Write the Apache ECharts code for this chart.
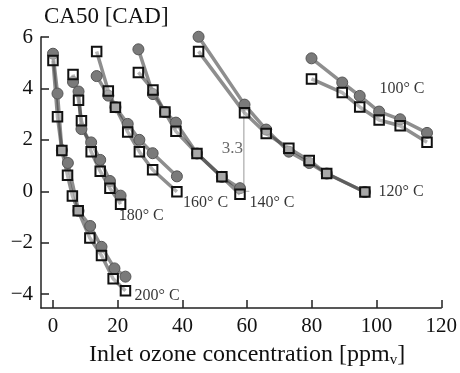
<!DOCTYPE html>
<html><head><meta charset="utf-8">
<script src="https://cdn.jsdelivr.net/npm/echarts@6/dist/echarts.min.js"></script>
<style>html,body{margin:0;padding:0;background:#fff}#c{width:460px;height:373px}</style>
</head><body><div id="c"></div>
<script>
// ---- data ----
const xTicks = [0, 20, 40, 60, 80, 100, 120];
const yTicks = [-4, -2, 0, 2, 4, 6];

const x200c = [0, 1.4, 2.75, 4.6, 7.9, 11.5, 15.0, 19.0, 22.4];
const y200c = [5.35, 3.8, 1.6, 1.1, -0.76, -1.35, -2.16, -3.0, -3.32];
const x200s = [0, 1.4, 2.75, 4.5, 6.0, 7.8, 11.4, 15.0, 18.6, 22.4];
const y200s = [5.09, 2.9, 1.59, 0.62, -0.18, -0.76, -1.82, -2.5, -3.4, -3.87];

const x180 = [6.2, 7.9, 8.8, 11.8, 14.6, 17.6, 20.9];
const y180c = [4.25, 3.88, 2.42, 1.9, 1.22, 0.4, -0.17];
const y180s = [4.54, 3.54, 2.74, 1.54, 0.78, 0.12, -0.5];

const x160 = [13.5, 17.1, 19.3, 23.1, 26.7, 30.8, 38.3];
const y160c = [4.48, 3.72, 3.27, 2.62, 2.0, 1.48, 0.58];
const y160s = [5.44, 3.9, 3.27, 2.31, 1.54, 0.84, -0.02];

const x140 = [26.4, 30.9, 34.6, 38.0, 44.5, 52.2, 57.8];
const y140c = [5.52, 3.78, 3.08, 2.67, 1.47, 0.56, 0.12];
const y140s = [4.62, 3.94, 3.08, 2.33, 1.47, 0.56, -0.12];

const x120 = [45.0, 59.2, 65.9, 72.9, 79.2, 84.6, 96.4];
const y120c = [6.01, 3.37, 2.4, 1.54, 1.1, 0.69, -0.03];
const y120s = [5.44, 3.05, 2.25, 1.67, 1.2, 0.69, -0.03];

const x100 = [79.9, 89.4, 94.8, 100.8, 107.3, 115.6];
const y100c = [5.17, 4.23, 3.71, 3.1, 2.8, 2.27];
const y100s = [4.37, 3.84, 3.28, 2.77, 2.55, 1.91];

const tempNames = ['200° C', '180° C', '160° C', '140° C', '120° C', '100° C'];
const tempLabelX = [25.2, 20.3, 40.2, 60.7, 100.6, 100.9];
const tempLabelY = [-4.05, -0.97, -0.44, -0.44, -0.02, 4.0];

const deltaX = 59;
const deltaY = [0, 3.3];
const deltaText = '3.3';

// ---- build ----
const F = '"Liberation Serif", "Times New Roman", serif';
const zip = (xs, ys) => xs.map((x, i) => [x, ys[i]]);
const circleSets = [zip(x200c, y200c), zip(x180, y180c), zip(x160, y160c), zip(x140, y140c), zip(x120, y120c), zip(x100, y100c)];
const squareSets = [zip(x200s, y200s), zip(x180, y180s), zip(x160, y160s), zip(x140, y140s), zip(x120, y120s), zip(x100, y100s)];

const lineStyle = { color: 'rgba(60,60,60,0.58)', width: 3.5 };
const series = [];
circleSets.concat(squareSets).forEach(d => {
  series.push({ type: 'line', data: d, showSymbol: false, symbol: 'none', lineStyle, z: 2, clip: false, silent: true, animation: false });
});
circleSets.forEach(d => {
  series.push({ type: 'scatter', data: d, symbol: 'circle', symbolSize: 11, z: 3, clip: false, animation: false,
    itemStyle: { color: '#7a7a7a', borderColor: '#555', borderWidth: 1, opacity: 1 } });
});
squareSets.forEach(d => {
  series.push({ type: 'scatter', data: d, symbol: 'rect', symbolSize: 9.5, z: 4, clip: false, animation: false,
    itemStyle: { color: 'rgba(255,255,255,0.35)', borderColor: '#111', borderWidth: 2, opacity: 1 } });
});
// 3.3 annotation
series.push({ type: 'line', data: [[deltaX, deltaY[0]], [deltaX, deltaY[1]]], symbol: 'none', z: 1, animation: false,
  lineStyle: { color: '#999', width: 1 } });
deltaY.forEach(v => series.push({ type: 'line', data: [[deltaX - 1.7, v], [deltaX + 1.7, v]], symbol: 'none', z: 1, animation: false,
  lineStyle: { color: '#aaa', width: 1 } }));
series.push({ type: 'scatter', data: [[deltaX - 0.3, (deltaY[0] + deltaY[1]) / 2]], symbolSize: 0, z: 5, animation: false,
  label: { show: true, position: 'left', distance: 0, formatter: deltaText, fontFamily: F, fontSize: 17, color: '#444' } });
// temperature labels
series.push({ type: 'scatter', symbolSize: 0, z: 5, clip: false, animation: false,
  data: tempNames.map((n, i) => ({ name: n, value: [tempLabelX[i], tempLabelY[i]] })),
  label: { show: true, position: 'right', distance: 0, formatter: p => p.name, fontFamily: F, fontSize: 16, color: '#000' } });

const chart = echarts.init(document.getElementById('c'), null, { renderer: 'canvas' });
chart.setOption({
  animation: false,
  backgroundColor: '#fff',
  title: { text: 'CA50 [CAD]', left: 44, top: 5, padding: 0,
    textStyle: { fontFamily: F, fontSize: 23, fontWeight: 'normal', color: '#111' } },
  grid: { left: 41, right: 15, top: 37, bottom: 61, containLabel: false },
  xAxis: {
    type: 'value', min: -3.7, max: 120,
    axisLine: { show: true, onZero: false, lineStyle: { color: '#222', width: 1.5 } },
    axisTick: { show: true, inside: true, length: 8, customValues: xTicks, lineStyle: { color: '#222', width: 1.5 } },
    axisLabel: { customValues: xTicks, fontFamily: F, fontSize: 21, color: '#111', margin: 8 },
    splitLine: { show: false },
    name: 'Inlet ozone concentration [ppm{s|v}]', nameLocation: 'middle', nameGap: 33,
    nameTextStyle: { fontFamily: F, fontSize: 24, color: '#111', padding: [0, 0, 0, 12],
      rich: { s: { fontFamily: F, fontSize: 15, color: '#111', padding: [12, 0, 0, 0] } } }
  },
  yAxis: {
    type: 'value', min: -4.54, max: 6,
    axisLine: { show: true, onZero: false, lineStyle: { color: '#222', width: 1.5 } },
    axisTick: { show: true, inside: true, length: 8, customValues: yTicks, lineStyle: { color: '#222', width: 1.5 } },
    axisLabel: { customValues: yTicks, fontFamily: F, fontSize: 21, color: '#111', margin: 8,
      formatter: v => (v < 0 ? '\u2212' + Math.abs(v) : String(v)) },
    splitLine: { show: false }
  },
  series
});
</script></body></html>
